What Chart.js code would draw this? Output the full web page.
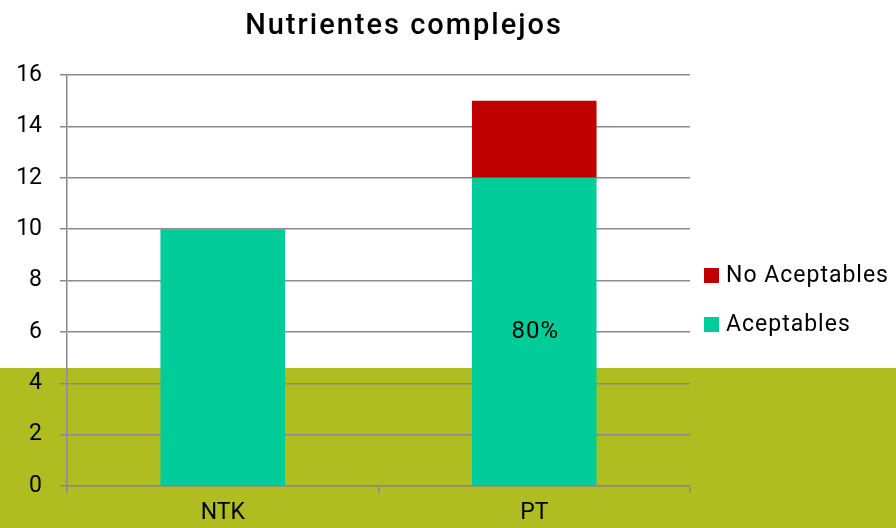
<!DOCTYPE html>
<html lang="es">
<head>
<meta charset="utf-8">
<title>Nutrientes complejos</title>
<script src="https://cdn.jsdelivr.net/npm/chart.js@4.4.1/dist/chart.umd.min.js"></script>
<style>
  html, body { margin: 0; padding: 0; background: #fff; }
  canvas { display: block; }
</style>
</head>
<body>
<canvas id="chart" width="896" height="528"></canvas>
<script>
// Datos
const categories = ["NTK", "PT"];
const aceptables = [10, 12];
const noAceptables = [0, 3];
const shareLabels = ["", "80%"];
const yMax = 16;
const yStep = 2;

const FONT = "Roboto, 'DejaVu Sans', sans-serif";
const GRID = "#8a8a8a";

// fondo blanco con franja oliva abajo
const backdrop = {
	id: "backdrop",
	beforeDraw(chart) {
		const { ctx, width, height } = chart;
		ctx.save();
		ctx.fillStyle = "#ffffff";
		ctx.fillRect(0, 0, width, height);
		ctx.fillStyle = "#afbd21";
		ctx.fillRect(0, 368, width, height - 368);
		ctx.restore();
	}
};

const titleText = {
	id: "titleText",
	afterDraw(chart) {
		const ctx = chart.ctx;
		ctx.save();
		ctx.font = "500 29px " + FONT;
		ctx.letterSpacing = "2px";
		ctx.fillStyle = "#000";
		ctx.textAlign = "center";
		ctx.textBaseline = "alphabetic";
		ctx.fillText("Nutrientes complejos", 404, 34);
		ctx.restore();
	}
};

// leyenda a la derecha, en orden inverso al apilado
const sideLegend = {
	id: "sideLegend",
	afterDraw(chart) {
		const ctx = chart.ctx;
		const sets = chart.data.datasets.slice().reverse();
		ctx.save();
		ctx.font = "23px " + FONT;
		ctx.letterSpacing = "1px";
		ctx.textBaseline = "middle";
		ctx.textAlign = "left";
		sets.forEach((ds, i) => {
			const cy = 275 + i * 49;
			ctx.fillStyle = ds.backgroundColor;
			ctx.fillRect(704, cy - 7, 15, 15);
			ctx.fillStyle = "#000";
			ctx.fillText(ds.label, 726, cy + 1);
		});
		ctx.restore();
	}
};

// porcentaje dentro de la barra
const shareText = {
	id: "shareText",
	afterDatasetsDraw(chart) {
		const ctx = chart.ctx;
		const meta = chart.getDatasetMeta(0);
		ctx.save();
		ctx.font = "24px " + FONT;
		ctx.letterSpacing = "1px";
		ctx.fillStyle = "#000";
		ctx.textAlign = "center";
		ctx.textBaseline = "middle";
		meta.data.forEach((bar, i) => {
			if (!shareLabels[i]) return;
			ctx.fillText(shareLabels[i], bar.x + 1, (bar.y + bar.base) / 2);
		});
		ctx.restore();
	}
};

new Chart(document.getElementById("chart"), {
	type: "bar",
	data: {
		labels: categories,
		datasets: [
			{ label: "Aceptables", data: aceptables, backgroundColor: "#00cc99" },
			{ label: "No Aceptables", data: noAceptables, backgroundColor: "#c00000" }
		]
	},
	options: {
		responsive: false,
		animation: false,
		layout: { padding: { top: 75, right: 206, bottom: 0, left: 0 } },
		datasets: { bar: { categoryPercentage: 0.8, barPercentage: 0.5 } },
		plugins: {
			legend: { display: false },
			title: { display: false },
			tooltip: { enabled: false }
		},
		scales: {
			x: {
				stacked: true,
				afterFit: (scale) => { scale.height = 42; },
				grid: { drawOnChartArea: false, color: GRID, lineWidth: 1.5, tickLength: 7 },
				border: { color: GRID, width: 1.5 },
				ticks: { color: "#000", padding: 6, font: { family: FONT, size: 23 } }
			},
			y: {
				stacked: true,
				min: 0,
				max: yMax,
				afterFit: (scale) => { scale.width = 67; },
				grid: { color: GRID, lineWidth: 1.5, tickLength: 7 },
				border: { color: GRID, width: 1.5 },
				ticks: { stepSize: yStep, color: "#000", padding: 18, font: { family: FONT, size: 23 } }
			}
		}
	},
	plugins: [backdrop, titleText, sideLegend, shareText]
});
</script>
</body>
</html>
